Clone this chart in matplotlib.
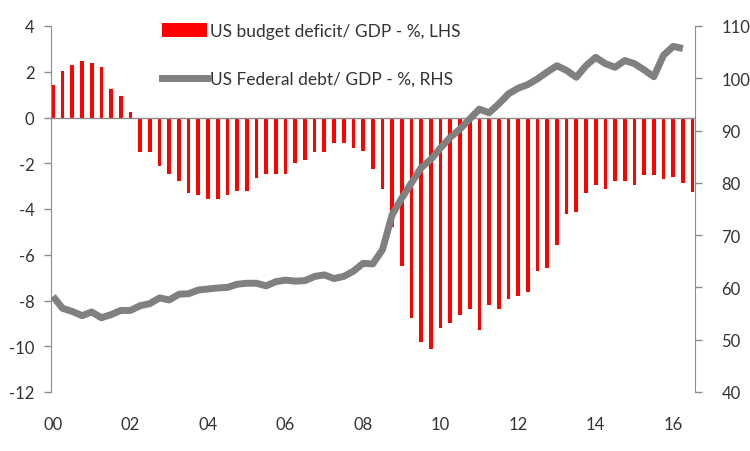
import numpy as np
import matplotlib
matplotlib.use('Agg')
import matplotlib.pyplot as plt
from matplotlib.patches import Patch
from matplotlib.lines import Line2D

plt.rcParams['font.family'] = ['Lato', 'DejaVu Sans']
plt.rcParams['axes.unicode_minus'] = False

# quarterly data, 2000Q1 .. 2016Q3
deficit = [1.41, 2.02, 2.31, 2.49, 2.40, 2.21, 1.24, 0.95, 0.25, -1.50,
           -1.50, -2.12, -2.47, -2.78, -3.29, -3.39, -3.58, -3.58, -3.39, -3.20,
           -3.20, -2.66, -2.49, -2.49, -2.49, -2.01, -1.86, -1.53, -1.50, -1.10,
           -1.12, -1.32, -1.48, -2.24, -3.12, -4.79, -6.47, -8.75, -9.83, -10.1,
           -9.20, -9.00, -8.65, -8.37, -9.28, -8.20, -8.37, -7.92, -7.82, -7.63,
           -6.73, -6.59, -5.56, -4.20, -4.11, -3.30, -2.95, -3.12, -2.79, -2.79,
           -2.95, -2.50, -2.50, -2.69, -2.59, -2.88, -3.24]

debt = [58.3, 56.0, 55.4, 54.6, 55.3, 54.2, 54.8, 55.6, 55.6, 56.5,
        56.9, 58.0, 57.6, 58.7, 58.8, 59.5, 59.7, 59.9, 60.0, 60.6,
        60.8, 60.8, 60.3, 61.1, 61.4, 61.2, 61.3, 62.1, 62.4, 61.7,
        62.1, 63.1, 64.6, 64.5, 67.2, 73.9, 77.1, 80.0, 82.9, 84.5,
        86.7, 88.7, 90.3, 92.2, 94.1, 93.4, 95.1, 97.0, 98.1, 98.8,
        99.9, 101.2, 102.4, 101.5, 100.2, 102.4, 104.0, 102.8, 102.1, 103.4,
        102.8, 101.6, 100.3, 104.4, 106.1, 105.7]

year_labels = ['00', '02', '04', '06', '08', '10', '12', '14', '16']

txt = '#333333'
axcol = '#8c8c8c'

fig = plt.figure(figsize=(7.5, 4.52), dpi=100)
ax = fig.add_axes([51/750, 1-393/452, (695-51)/750, (393-27)/452])
ax2 = ax.twinx()

x_bar = np.arange(len(deficit))
x_line = np.arange(len(debt))

ax.bar(x_bar, deficit, width=0.38, color='#ff0000', zorder=2)
ax.axhline(0, color=axcol, lw=1, zorder=3)
ax2.plot(x_line, debt, color='#808080', lw=5, solid_capstyle='butt', zorder=4)

ax.set_xlim(-0.2, 66.25)
ax.set_ylim(-12, 4)
ax.set_yticks(np.arange(-12, 5, 2))
ax2.set_ylim(40, 110)
ax2.set_yticks(np.arange(40, 111, 10))

ax.set_xticks(np.arange(0, 65, 8))
ax.set_xticklabels(year_labels)

for a in (ax, ax2):
    a.spines['top'].set_visible(False)
    a.spines['bottom'].set_visible(False)
    a.spines['left'].set_color(axcol)
    a.spines['right'].set_color(axcol)
    a.tick_params(axis='y', colors=axcol, labelcolor=txt, length=5, width=1, labelsize=12)
ax2.spines['left'].set_visible(False)
ax.spines['right'].set_visible(False)
ax.tick_params(axis='x', length=0, pad=17, labelcolor=txt, labelsize=12)
ax.tick_params(axis='y', pad=7)
ax2.tick_params(axis='y', pad=14)

ax.set_zorder(ax2.get_zorder() - 1)
ax2.patch.set_visible(False)

handles = [Patch(facecolor='#ff0000', edgecolor='none'),
           Line2D([], [], color='#808080', lw=5)]
labels = ['US budget deficit/ GDP - %, LHS', 'US Federal debt/ GDP - %, RHS']
leg = fig.legend(handles, labels, loc='upper left', bbox_to_anchor=(162/750, 1-24/452),
                 frameon=False, fontsize=12.5, handlelength=2.6, handleheight=0.85,
                 handletextpad=0.15, labelspacing=1.85, borderpad=0, borderaxespad=0)
for t in leg.get_texts():
    t.set_color(txt)

plt.savefig('out.png', dpi=100)
